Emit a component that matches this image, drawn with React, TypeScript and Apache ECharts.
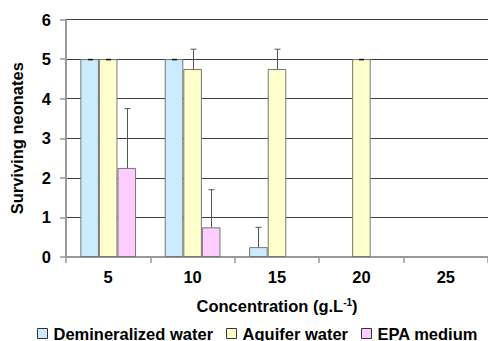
import React, { useEffect, useRef } from "react";
import * as echarts from "echarts";

const categories = ["5", "10", "15", "20", "25"];
const seriesNames = ["Demineralized water", "Aquifer water", "EPA medium"];
const demineralized = [5, 5, 0.25, 0, 0];
const aquifer = [5, 4.75, 4.75, 5, 0];
const epa = [2.25, 0.75, 0, 0, 0];
const demineralizedErr: (number | null)[] = [0, 0, 0.5, null, null];
const aquiferErr: (number | null)[] = [0, 0.5, 0.5, 0, null];
const epaErr: (number | null)[] = [1.5, 0.95, null, null, null];
const colors = ["#CCEBFF", "#FFFFCC", "#FFCCFF"];

const GAP = 0.34;

function errorSeries(values: number[], errs: (number | null)[], offset: number) {
  const data: number[][] = [];
  values.forEach((v, i) => {
    const e = errs[i];
    if (e !== null && e !== undefined) data.push([i, v, e]);
  });
  return {
    type: "custom",
    z: 10,
    silent: true,
    renderItem: (params: any, api: any) => {
      const idx = api.value(0);
      const val = api.value(1);
      const err = api.value(2);
      const band = api.size([1, 0])[0];
      const bw = (band * (1 - GAP)) / 3;
      const base = api.coord([idx, val]);
      const top = api.coord([idx, val + err]);
      const x = Math.round(base[0] + offset * bw) + 0.5;
      const children: any[] = [];
      if (err > 0) {
        children.push({
          type: "line",
          shape: { x1: x, y1: base[1], x2: x, y2: top[1] },
          style: { stroke: "#555", lineWidth: 1 },
        });
        children.push({
          type: "line",
          shape: { x1: x - 3, y1: top[1], x2: x + 3, y2: top[1] },
          style: { stroke: "#555", lineWidth: 1 },
        });
      } else {
        children.push({
          type: "line",
          shape: { x1: x - 2.5, y1: top[1] + 0.5, x2: x + 2.5, y2: top[1] + 0.5 },
          style: { stroke: "#111", lineWidth: 1.5 },
        });
      }
      return { type: "group", children };
    },
    data,
  };
}

export default function App() {
  const ref = useRef<HTMLDivElement>(null);
  useEffect(() => {
    if (!ref.current) return;
    const chart = echarts.init(ref.current, null, { renderer: "svg" });
    const font = "'Liberation Sans', Arial, sans-serif";
    const fs = 16.5;
    const valueSets = [demineralized, aquifer, epa];
    chart.setOption({
      animation: false,
      textStyle: { fontFamily: font },
      grid: { left: 66, top: 19.5, width: 425, height: 237.5, containLabel: false },
      legend: {
        data: seriesNames,
        top: 325,
        left: 37,
        padding: 0,
        icon: "rect",
        itemWidth: 10,
        itemHeight: 10,
        itemGap: 13,
        itemStyle: { borderColor: "#333", borderWidth: 1 },
        textStyle: { fontSize: fs, fontWeight: "bold", color: "#000", fontFamily: font, padding: [0, 0, 0, 1] },
      },
      xAxis: {
        type: "category",
        data: categories,
        boundaryGap: true,
        name: "{a|Concentration (g.L}{s|-1}{a|)}",
        nameLocation: "middle",
        nameGap: 40,
        nameTextStyle: {
          rich: {
            a: { fontSize: fs, fontWeight: "bold", color: "#000", fontFamily: font },
            s: { fontSize: 10, fontWeight: "bold", color: "#000", fontFamily: font, verticalAlign: "top", padding: [0, 0, 8, 0] },
          },
        },
        axisLine: { lineStyle: { color: "#999", width: 2 } },
        axisTick: { show: true, length: 6, alignWithLabel: false, lineStyle: { color: "#999", width: 1.5 } },
        axisLabel: { fontSize: fs, fontWeight: "bold", color: "#000", margin: 11, fontFamily: font },
        splitLine: { show: false },
      },
      yAxis: {
        type: "value",
        min: 0,
        max: 6,
        interval: 1,
        name: "Surviving neonates",
        nameLocation: "middle",
        nameGap: 41,
        nameTextStyle: { fontSize: fs, fontWeight: "bold", color: "#000", fontFamily: font },
        axisLine: { show: true, lineStyle: { color: "#999", width: 2 } },
        axisTick: { show: true, length: 6, lineStyle: { color: "#999", width: 1.5 } },
        axisLabel: { fontSize: fs, fontWeight: "bold", color: "#000", margin: 15, fontFamily: font },
        splitLine: { show: true, lineStyle: { color: "#404040", width: 1 } },
      },
      series: [
        ...seriesNames.map((name, k) => ({
          name,
          type: "bar",
          data: valueSets[k].map((v) => (v === 0 ? null : v)),
          barGap: "0%",
          barCategoryGap: "34%",
          itemStyle: { color: colors[k], borderColor: "#777", borderWidth: 1 },
        })),
        errorSeries(demineralized, demineralizedErr, -1),
        errorSeries(aquifer, aquiferErr, 0),
        errorSeries(epa, epaErr, 1),
      ],
    });
    return () => chart.dispose();
  }, []);
  return (
    <div
      ref={ref}
      style={{ position: "fixed", left: 0, top: 0, width: 488, height: 341, background: "#fff" }}
    />
  );
}
